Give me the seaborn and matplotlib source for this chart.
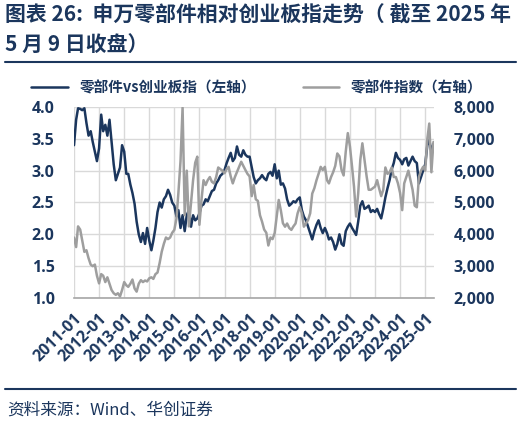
import matplotlib
matplotlib.use("Agg")
import matplotlib.pyplot as plt
import matplotlib.ticker as mticker
import matplotlib.dates as mdates
from matplotlib.lines import Line2D
import pandas as pd
import seaborn as sns

NAVY = "#1B365D"
GREY = "#9E9E9E"
GRID = "#D9D9D9"

# monthly readings, 2011-01 .. 2025-05
months = pd.date_range("2011-01-01", "2025-05-01", freq="MS")

# 零部件vs创业板指 (left axis)
relative = [
    3.40, 3.80, 3.98, 3.97, 3.95, 3.98, 3.75, 3.55, 3.62, 3.45, 3.30, 3.15,  # 2011
    3.35, 3.88, 3.62, 3.72, 3.55, 3.80, 3.45, 3.10, 2.85, 2.95, 3.05, 3.40,  # 2012
    3.30, 2.95, 2.95, 2.78, 2.65, 2.48, 2.20, 2.00, 1.88, 2.02, 1.85, 2.10,  # 2013
    1.90, 1.75, 1.90, 2.10, 2.35, 2.50, 2.42, 2.55, 2.60, 2.70, 2.62, 2.50,  # 2014
    2.45, 2.28, 2.38, 2.10, 2.30, 2.05, 2.30, 2.38, 2.12, 2.30, 2.22, 2.25,  # 2015
    2.33, 2.45, 2.47, 2.55, 2.52, 2.60, 2.68, 2.70, 2.80, 2.85, 2.92, 2.95,  # 2016
    3.01, 3.12, 3.20, 3.28, 3.15, 3.20, 3.38, 3.25, 3.22, 3.32, 3.25, 3.22,  # 2017
    3.22, 3.05, 2.90, 2.80, 2.85, 2.88, 2.93, 2.88, 2.85, 2.95, 2.98, 2.92,  # 2018
    3.10, 2.88, 3.00, 2.78, 2.80, 2.72, 2.55, 2.45, 2.48, 2.52, 2.50, 2.55,  # 2019
    2.58, 2.38, 2.28, 2.22, 2.12, 2.02, 1.92, 2.05, 2.15, 2.22, 2.10, 2.02,  # 2020
    2.10, 2.02, 1.92, 1.95, 1.88, 1.76, 1.85, 2.00, 1.85, 1.82, 2.05, 2.12,  # 2021
    2.17, 2.10, 2.05, 1.99, 2.20, 2.45, 2.52, 2.40, 2.42, 2.45, 2.35, 2.38,  # 2022
    2.35, 2.40, 2.32, 2.25, 2.40, 2.58, 2.72, 2.85, 3.02, 3.12, 3.28, 3.20,  # 2023
    3.17, 3.10, 3.18, 3.20, 3.08, 3.15, 3.22, 3.15, 3.12, 2.80, 2.90, 3.00,  # 2024
    3.10, 3.40, 3.48, 3.30, 3.42,                                            # 2025
]

# 零部件指数 (right axis)
parts_index = [
    3900, 3600, 4250, 4150, 3800, 3450, 3500, 3250, 3050, 3000, 3050, 2700,  # 2011
    2460, 2750, 2700, 2500, 2650, 2450, 2250, 2150, 2100, 2150, 2050, 2250,  # 2012
    2500, 2400, 2350, 2450, 2580, 2300, 2200, 2450, 2560, 2500, 2550, 2520,  # 2013
    2620, 2650, 2600, 2750, 2800, 3100, 3450, 3700, 3900, 3850, 3900, 4050,  # 2014
    4140, 4500, 5300, 6300, 7980, 4600, 6000, 4250, 5000, 5700, 6250, 6440,  # 2015
    4300, 5100, 5700, 5550, 5700, 5800, 5650, 5600, 5800, 6100, 6050, 6000,  # 2016
    5920, 6050, 6120, 5820, 5600, 5800, 5960, 6120, 6280, 6150, 6020, 5900,  # 2017
    5820, 5200, 5550, 5100, 5050, 4600, 4400, 4150, 4050, 3650, 3900, 3850,  # 2018
    4040, 4600, 5080, 4750, 4350, 4240, 4340, 4200, 4140, 4250, 4340, 4660,  # 2019
    4860, 4660, 4240, 4340, 4450, 4660, 5280, 5450, 5700, 5900, 6120, 6020,  # 2020
    6120, 5700, 5600, 5800, 5950, 6150, 6540, 6450, 6020, 5850, 6600, 7180,  # 2021
    6760, 6120, 5500, 4560, 5280, 6340, 6860, 6340, 5820, 5400, 5400, 5450,  # 2022
    5500, 5700, 5450, 5200, 5400, 6100, 5900, 5950, 6100, 5800, 5800, 5600,  # 2023
    5300, 4760, 5600, 5800, 6000, 5700, 5400, 4900, 4850, 5800, 6000, 6120,  # 2024
    6000, 7000, 7480, 5950, 6900,                                            # 2025
]

left_ticks = [1.0, 1.5, 2.0, 2.5, 3.0, 3.5, 4.0]
right_ticks = [2000, 3000, 4000, 5000, 6000, 7000, 8000]
year_ticks = pd.date_range("2011-01-01", "2025-01-01", freq="YS")

title_1 = "图表 26:  申万零部件相对创业板指走势（ 截至 2025 年"
title_2 = "5 月 9 日收盘）"
legend_labels = ["零部件vs创业板指（左轴）", "零部件指数（右轴）"]
source_text = "资料来源：Wind、华创证券"

df = pd.DataFrame({"date": months, "relative": relative, "index": parts_index})

sns.set_theme(style="white")
plt.rcParams["font.family"] = ["Noto Sans CJK SC", "DejaVu Sans"]

fig = plt.figure(figsize=(5.21, 4.26), dpi=100)
ax = fig.add_axes([74 / 521, 1 - 298 / 426, 360 / 521, 191 / 426])
ax2 = ax.twinx()

sns.lineplot(data=df, x="date", y="relative", ax=ax, color=NAVY, linewidth=1.8)
sns.lineplot(data=df, x="date", y="index", ax=ax2, color=GREY, linewidth=1.8)

ax.set_xlim(pd.Timestamp("2011-01-01"), pd.Timestamp("2025-05-09"))
ax.set_ylim(1.0, 4.0)
ax2.set_ylim(2000, 8000)
ax.set_yticks(left_ticks)
ax2.set_yticks(right_ticks)
ax.set_xticks(year_ticks)
ax.xaxis.set_major_formatter(mdates.DateFormatter("%Y-%m"))
ax.yaxis.set_major_formatter(mticker.FormatStrFormatter("%.1f"))
ax2.yaxis.set_major_formatter(mticker.FuncFormatter(lambda v, p: f"{v:,.0f}"))

ax.set_xlabel("")
ax.set_ylabel("")
ax2.set_ylabel("")

ax.grid(True, color=GRID, linewidth=1)
ax2.grid(False)
for sp in ["top", "left", "right"]:
    ax.spines[sp].set_visible(False)
ax.spines["bottom"].set_color("#A6A6A6")
ax.spines["bottom"].set_linewidth(1.2)
for sp in ax2.spines.values():
    sp.set_visible(False)

tick_font = dict(family="Open Sans", weight="bold", size=11.5)
ax.tick_params(axis="both", length=0, colors=NAVY)
ax2.tick_params(axis="y", length=0, colors=NAVY, pad=14)
ax.tick_params(axis="y", pad=14)
for lab in ax.get_yticklabels() + ax2.get_yticklabels():
    lab.set_fontproperties(tick_font)
for lab in ax.get_xticklabels():
    lab.set_fontproperties(dict(family="Open Sans", weight="bold", size=11.5))
    lab.set_rotation(45)
    lab.set_ha("right")
    lab.set_rotation_mode("anchor")
ax.tick_params(axis="x", pad=9)

# title
fig.text(5 / 521, 1 - 15 / 426, title_1, fontsize=15, weight="bold", color=NAVY, va="center")
fig.text(5 / 521, 1 - 44 / 426, title_2, fontsize=15, weight="bold", color=NAVY, va="center")
fig.add_artist(Line2D([5 / 521, 516 / 521], [1 - 62 / 426] * 2, color=NAVY, linewidth=1.5))

# legend
handles = [Line2D([], [], color=NAVY, linewidth=1.8), Line2D([], [], color=GREY, linewidth=1.8)]
fig.legend(handles, legend_labels, loc="center", bbox_to_anchor=(257 / 521, 1 - 87 / 426),
           ncol=2, frameon=False, handlelength=2.5, columnspacing=3.2, handletextpad=0.8,
           prop=dict(family=["Noto Sans CJK SC", "DejaVu Sans"], weight="bold", size=10.5),
           labelcolor=NAVY)

# footer
fig.add_artist(Line2D([5 / 521, 516 / 521], [1 - 389 / 426] * 2, color=NAVY, linewidth=1.5))
fig.text(7 / 521, 1 - 410 / 426, source_text, fontsize=12, style="italic", color=NAVY, va="center")

fig.savefig("out.png", dpi=100)
